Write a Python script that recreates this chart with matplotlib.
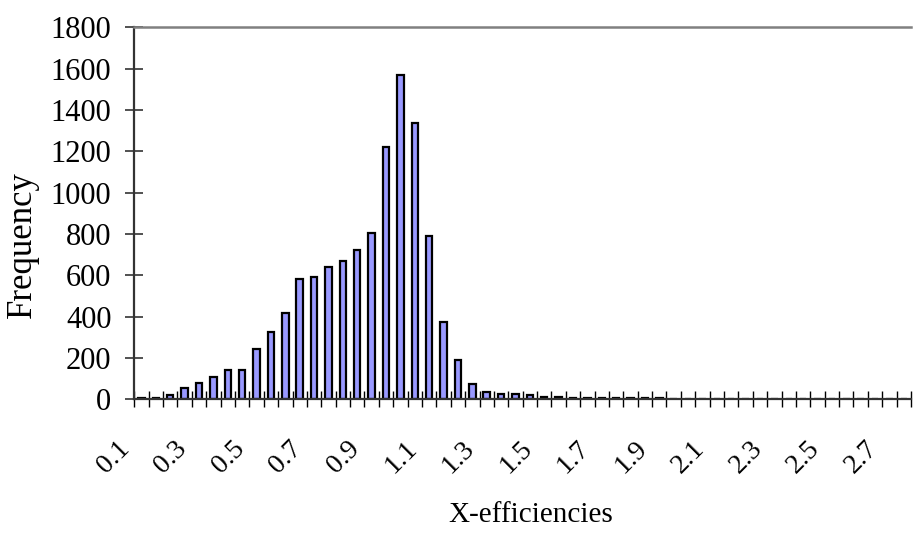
import matplotlib
matplotlib.use("Agg")
import matplotlib.pyplot as plt
import matplotlib.transforms as mtransforms
import numpy as np

# Category labels (bin centres, step 0.05) and frequencies
categories = [f"{0.1 + 0.05 * i:.2f}".rstrip("0").rstrip(".") for i in range(54)]
frequency = [4, 6, 23, 55, 79, 110, 140, 140, 242, 326,
             419, 584, 592, 642, 671, 721, 806, 1221, 1568, 1335,
             792, 376, 189, 74, 37, 26, 26, 22, 10, 9,
             8, 7, 6, 5, 5, 5, 4, 0, 0, 0,
             0, 0, 0, 0, 0, 0, 0, 0, 0, 0,
             0, 0, 0, 0]
label_every = 4
y_ticks = [0, 200, 400, 600, 800, 1000, 1200, 1400, 1600, 1800]

plt.rcParams['font.family'] = ['Liberation Serif', 'DejaVu Serif']

fig = plt.figure(figsize=(9.16, 5.39), dpi=100)
ax = fig.add_axes([134.3 / 916, 1 - 399.3 / 539, (911 - 134.3) / 916, (399.3 - 27.3) / 539])

x = np.arange(len(categories))
ax.bar(x, frequency, width=0.45, color='#9999FF', edgecolor='black', linewidth=1.6, zorder=2)

ax.set_xlim(-0.5, len(categories) - 0.5)
ax.set_ylim(0, 1800)

ax.set_yticks(y_ticks)
ax.set_yticklabels([str(v) for v in y_ticks], fontsize=22)
ax.tick_params(axis='y', which='major', direction='inout', length=13, width=1.2, color='#333333', pad=10)

major_pos = x[::label_every]
ax.set_xticks(major_pos)
ax.set_xticklabels([categories[i] for i in major_pos], fontsize=20, rotation=45,
                   ha='right', va='center', rotation_mode='anchor')
ax.tick_params(axis='x', which='major', length=0, pad=33)
ax.set_xticks(np.arange(len(categories) + 1) - 0.5, minor=True)
ax.tick_params(axis='x', which='minor', direction='inout', length=11.5, width=1.0, color='black')

offset = mtransforms.ScaledTranslation(-16 / 100, 0, fig.dpi_scale_trans)
for lbl in ax.get_xticklabels():
    lbl.set_transform(lbl.get_transform() + offset)

for side in ['left', 'bottom']:
    ax.spines[side].set_color('#333333')
    ax.spines[side].set_linewidth(1.6)
ax.spines['top'].set_color('#808080')
ax.spines['top'].set_linewidth(1.8)
ax.spines['right'].set_visible(False)
ax.spines['bottom'].set_zorder(3)

fig.text(22 / 916, 1 - 245 / 539, 'Frequency', rotation=90, ha='center', va='center', fontsize=25)
fig.text(531 / 916, 1 - 515 / 539, 'X-efficiencies', ha='center', va='center', fontsize=21)

fig.savefig('out.png', dpi=100)
